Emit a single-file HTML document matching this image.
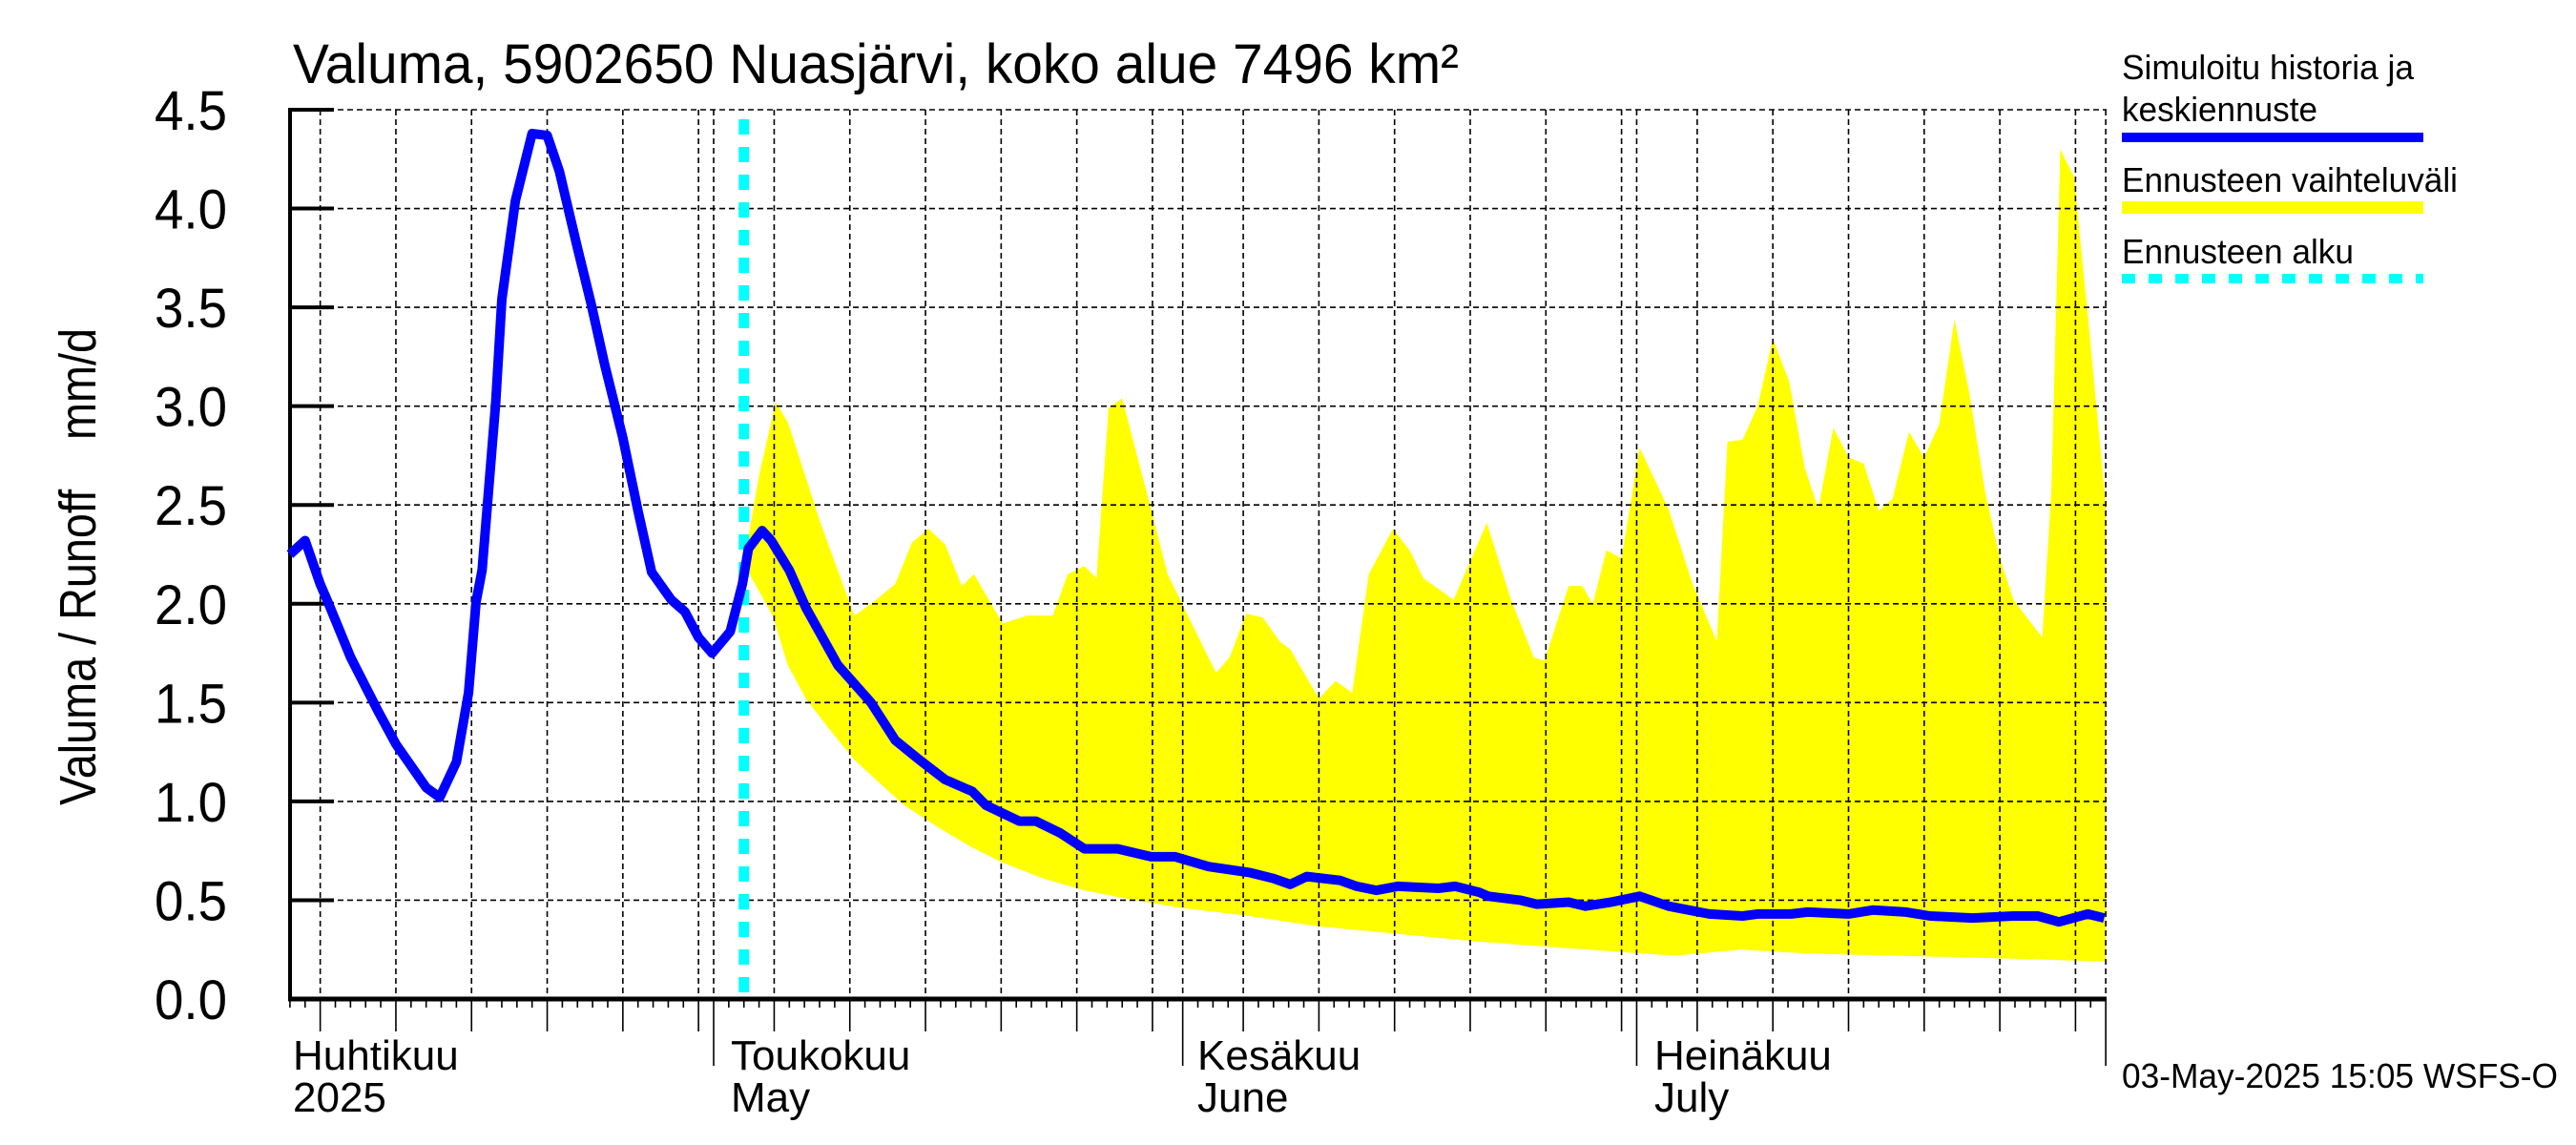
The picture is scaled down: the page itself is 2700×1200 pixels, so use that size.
<!DOCTYPE html>
<html><head><meta charset="utf-8"><style>
html,body{margin:0;padding:0;background:#fff;}
svg{display:block;font-family:"Liberation Sans",Arial,sans-serif;}
</style></head><body>
<svg id="chart" width="2700" height="1200" viewBox="0 0 2700 1200" xmlns="http://www.w3.org/2000/svg">
<rect x="0" y="0" width="2700" height="1200" fill="#fff"/>
<text x="307" y="87" font-size="58" textLength="1222" lengthAdjust="spacingAndGlyphs">Valuma, 5902650 Nuasjärvi, koko alue 7496 km²</text>
<text transform="translate(100,844) rotate(-90)" font-size="54" textLength="500" lengthAdjust="spacingAndGlyphs" xml:space="preserve">Valuma / Runoff    mm/d</text>
<g id="band"></g>
<g id="grid"></g>
<g id="axes"></g>
<g id="lines"></g>
<g>
<text x="2224" y="83" font-size="36" textLength="306" lengthAdjust="spacingAndGlyphs">Simuloitu historia ja</text>
<text x="2224" y="127" font-size="36" textLength="205" lengthAdjust="spacingAndGlyphs">keskiennuste</text>
<rect x="2224" y="139" width="316" height="10" fill="#0000ff"/>
<text x="2224" y="201" font-size="36" textLength="352" lengthAdjust="spacingAndGlyphs">Ennusteen vaihteluväli</text>
<rect x="2224" y="211" width="316" height="13" fill="#ffff00"/>
<text x="2224" y="276" font-size="36" textLength="243" lengthAdjust="spacingAndGlyphs">Ennusteen alku</text>
<line x1="2224" y1="292" x2="2540" y2="292" stroke="#00ffff" stroke-width="10" stroke-dasharray="14 14"/>
</g>
<text x="2224" y="1140" font-size="36" textLength="457" lengthAdjust="spacingAndGlyphs">03-May-2025 15:05 WSFS-O</text>
</svg>
<script>
// Day index: 0 = 1 April 2025
const simDays = [2,3,4,4.5,6,7.8,9,11,11.9,13,13.8,14.3,14.7,15.6,16,16.9,18,19,19.8,21,21.9,22.8,24,25,25.9,27.2,28.1,29,29.9,31.1,31.9,32.3,33.2,33.8,35,36.1,38.2,40.4,42,43.6,45.3,47.1,48,50.2,51.3,52.9,54.5,56.7,58.9,60.5,62.7,65.4,67,68.1,69.2,71.4,72.5,73.8,75.2,77.9,79,80.6,81.2,83.3,84.4,86.5,87.6,89.3,91.2,93.1,95.8,98,99,101.2,102.3,105,106.6,108.8,110.4,113.2,115.9,117.5,118.9,120.8,121.9];
const simValues = [2.25,2.32,2.10,2.01,1.73,1.46,1.29,1.07,1.02,1.20,1.55,2.01,2.17,3.02,3.54,4.04,4.38,4.37,4.19,3.80,3.52,3.21,2.84,2.47,2.16,2.02,1.96,1.83,1.75,1.86,2.10,2.28,2.37,2.32,2.17,1.98,1.69,1.50,1.31,1.21,1.11,1.05,0.98,0.90,0.90,0.84,0.76,0.76,0.72,0.72,0.67,0.64,0.61,0.58,0.62,0.60,0.57,0.55,0.57,0.56,0.57,0.54,0.52,0.50,0.48,0.49,0.47,0.49,0.52,0.47,0.43,0.42,0.43,0.43,0.44,0.43,0.45,0.44,0.42,0.41,0.42,0.42,0.39,0.43,0.41];
const upperDays = [32,33,34.1,34.9,37.1,39.3,40.4,42,43.1,44.2,45.3,46.4,47.2,49.1,50.7,52.4,53.4,54.5,55.3,56.1,57,58.9,60,61.6,63.2,64.1,65.2,66.3,67.4,68.1,70,71.1,72.2,73.3,74.9,76,76.9,78.9,81.1,82.7,84.2,84.9,86.5,87.4,88.1,89,90,91.2,93.1,94.7,96.3,97,98,99,100,101.1,102.1,103,104,105,106,107,107.9,109,110,111,112,113,114,115,115.9,117.8,118.4,119,119.9,120.9,122];
const upperValues = [2.2,2.65,3.02,2.92,2.40,1.94,2.00,2.10,2.31,2.38,2.30,2.09,2.15,1.90,1.94,1.94,2.15,2.19,2.13,2.99,3.04,2.48,2.15,1.90,1.65,1.73,1.95,1.93,1.81,1.77,1.52,1.61,1.55,2.15,2.38,2.27,2.13,2.02,2.41,2.02,1.73,1.71,2.09,2.09,2.00,2.27,2.23,2.79,2.48,2.10,1.81,2.82,2.83,3.00,3.34,3.12,2.69,2.48,2.89,2.74,2.71,2.47,2.53,2.87,2.74,2.91,3.44,3.06,2.58,2.23,2.02,1.83,2.56,4.30,4.16,3.39,2.5];
const lowerDays = [32,33.9,34.9,36.1,37.7,39.3,41,42.6,44.8,47,49.1,51.8,54.5,57.8,61,65.4,69.7,75.2,80.6,86,91.4,93.6,97.9,102.3,107.7,113.1,122];
const lowerValues = [2.2,1.94,1.69,1.52,1.36,1.21,1.09,0.98,0.87,0.77,0.69,0.61,0.55,0.50,0.46,0.42,0.37,0.33,0.29,0.26,0.23,0.22,0.25,0.23,0.22,0.21,0.19];
const yTicks = [0,0.5,1,1.5,2,2.5,3,3.5,4,4.5];
const yTickLabels = ["0.0","0.5","1.0","1.5","2.0","2.5","3.0","3.5","4.0","4.5"];
const monthStarts = [0,30,61,91,122];
const monthNamesFi = ["Huhtikuu","Toukokuu","Kesäkuu","Heinäkuu"];
const monthNamesEn = ["2025","May","June","July"];
const forecastStartDay = 32;

const NS = "http://www.w3.org/2000/svg";
const X0 = 304, X1 = 2208, Y0 = 1047, Y1 = 115, DMIN = 2, DMAX = 122;
function xs(d){ return 748 + (d - 30) * 15.86; }
function ys(v){ return Y0 - (v / 4.5) * (Y0 - Y1); }
function mk(tag, attrs, parent){ const e = document.createElementNS(NS, tag); for (const k in attrs) e.setAttribute(k, attrs[k]); parent.appendChild(e); return e; }

const band = document.getElementById('band');
let pts = upperDays.map((d,i)=>xs(d).toFixed(1)+','+ys(upperValues[i]).toFixed(1));
for (let i = lowerDays.length - 1; i >= 0; i--) pts.push(xs(lowerDays[i]).toFixed(1)+','+ys(lowerValues[i]).toFixed(1));
const poly = mk('polygon', {points: pts.join(' '), fill: '#ffff00'}, band);



const grid = document.getElementById('grid');
yTicks.forEach((v,i)=>{
  if (v === 0) return;
  const l = mk('line', {x1: X0, y1: ys(v), x2: X1, y2: ys(v), stroke: '#000', 'stroke-width': 1.6, 'stroke-dasharray': '6 4'}, grid);
  
  
});
const gridDays = [];
monthStarts.slice(0,4).forEach((s,m)=>{ for (let k=5;k<=30;k+=5) gridDays.push(s+k-1); });
monthStarts.forEach(s=>gridDays.push(s));
gridDays.forEach(d=>{
  if (d < DMIN || d > DMAX) return;
  const l = mk('line', {x1: xs(d), y1: Y1, x2: xs(d), y2: Y0, stroke: '#000', 'stroke-width': 1.6, 'stroke-dasharray': '6 4'}, grid);
  
  
});

const axes = document.getElementById('axes');
const ya = mk('line', {x1: X0, y1: Y1-2, x2: X0, y2: Y0+2, stroke: '#000', 'stroke-width': 4}, axes);


const xa = mk('line', {x1: X0-2, y1: Y0, x2: X1, y2: Y0, stroke: '#000', 'stroke-width': 5}, axes);


yTicks.forEach((v,i)=>{
  const t = mk('line', {x1: X0, y1: ys(v), x2: X0+46, y2: ys(v), stroke: '#000', 'stroke-width': 4}, axes);
  
  
  const lb = mk('text', {x: 238, y: ys(v)+21, 'font-size': 58, 'text-anchor': 'end', textLength: 76, lengthAdjust: 'spacingAndGlyphs'}, axes);
  lb.textContent = yTickLabels[i];
  
  
});
for (let d = DMIN; d <= DMAX; d++) {
  let len = 9;
  if (gridDays.includes(d)) len = 34;
  if (monthStarts.includes(d)) len = 70;
  const t = mk('line', {x1: xs(d), y1: Y0, x2: xs(d), y2: Y0+len, stroke: '#000', 'stroke-width': 1.6}, axes);
  
  
}
const labelX = [307, 766, 1255, 1734];
monthNamesFi.forEach((n,i)=>{
  const a = mk('text', {x: labelX[i], y: 1121, 'font-size': 44}, axes);
  a.textContent = n;
  
  
  const b = mk('text', {x: labelX[i], y: 1165, 'font-size': 44}, axes);
  b.textContent = monthNamesEn[i];
  
  
});

const lines = document.getElementById('lines');
const cy = mk('line', {x1: xs(forecastStartDay), y1: Y1+10, x2: xs(forecastStartDay), y2: Y0, stroke: '#00ffff', 'stroke-width': 11, 'stroke-dasharray': '16 13'}, lines);


const bl = mk('polyline', {points: simDays.map((d,i)=>xs(d).toFixed(1)+','+ys(simValues[i]).toFixed(1)).join(' '), fill: 'none', stroke: '#0000ff', 'stroke-width': 10, 'stroke-linejoin': 'round'}, lines);


</script>
</body></html>
